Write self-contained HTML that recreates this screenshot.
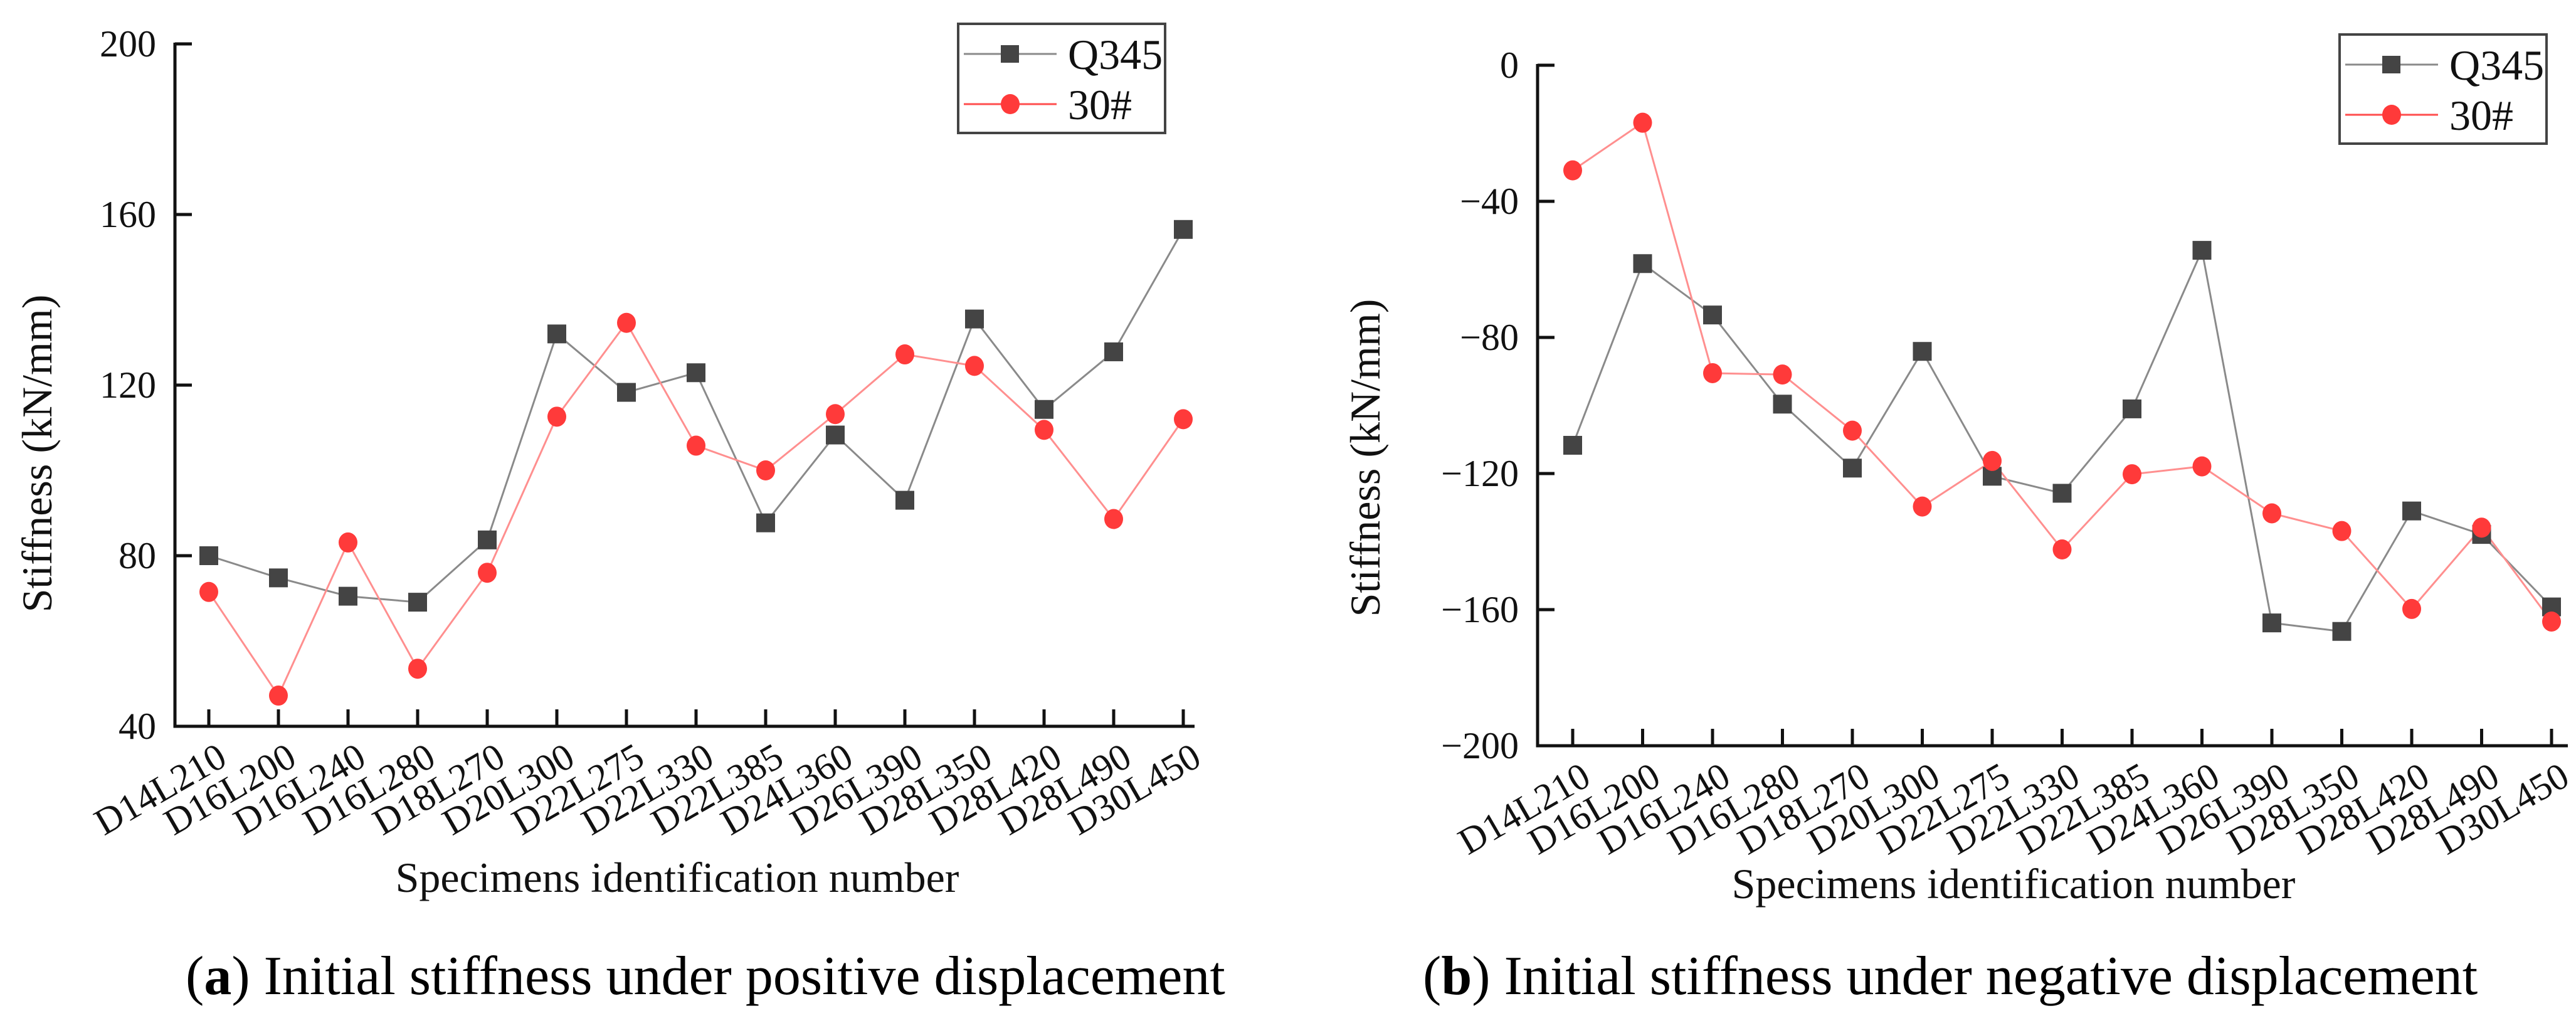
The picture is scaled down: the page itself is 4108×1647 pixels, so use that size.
<!DOCTYPE html>
<html><head><meta charset="utf-8"><style>
html,body{margin:0;padding:0;background:#fff;}
svg, svg text{font-family:"Liberation Serif","Times New Roman",serif !important;}
</style></head><body>
<svg id="c" width="4108" height="1642" viewBox="0 0 4108 1642" xmlns="http://www.w3.org/2000/svg" font-family="Liberation Serif, serif"></svg>
<script>
const categories=["D14L210","D16L200","D16L240","D16L280","D18L270","D20L300","D22L275","D22L330","D22L385","D24L360","D26L390","D28L350","D28L420","D28L490","D30L450"];
const posQ345=[80,74.8,70.5,69.1,83.7,132,118.3,122.9,87.7,108.3,93,135.5,114.3,127.8,156.5];
const pos30=[71.5,47.2,83.1,53.5,76,112.6,134.6,105.8,100,113.2,127.2,124.5,109.5,88.6,112];
const negQ345=[-111.7,-58.3,-73.4,-99.6,-118.4,-84.1,-120.8,-125.8,-101,-54.4,-163.9,-166.4,-131,-137.9,-159.2];
const neg30=[-30.9,-16.9,-90.5,-90.9,-107.4,-129.7,-116.3,-142.3,-120.2,-117.9,-131.7,-136.9,-159.8,-135.9,-163.5];
const posTicks=[40,80,120,160,200];
const negTicks=[-200,-160,-120,-80,-40,0];
const seriesNames=["Q345","30#"];

const NS="http://www.w3.org/2000/svg";
const svg=document.getElementById('c');
function mk(tag,attrs,parent,text){const e=document.createElementNS(NS,tag);for(const k in attrs)e.setAttribute(k,attrs[k]);if(tag==='text')e.setAttribute('font-family','Liberation Serif, serif');if(text!==undefined)e.textContent=text;(parent||svg).appendChild(e);return e;}

function chart(cfg){
  const g=mk('g',{});
  
  
  const ymin=cfg.ticks[0],ymax=cfg.ticks[cfg.ticks.length-1];
  const Y=v=>cfg.y1-(v-ymin)/(ymax-ymin)*(cfg.y1-cfg.y0);
  const X=i=>cfg.xf+i*(cfg.xl-cfg.xf)/(categories.length-1);
  const ax=mk('path',{d:`M${cfg.ax} ${cfg.y0-2}V${cfg.y1}H${cfg.xend}`,stroke:'#111','stroke-width':5,fill:'none'},g);
  
  
  cfg.ticks.forEach(t=>{
    const tk=mk('line',{x1:cfg.ax,x2:cfg.ax+27,y1:Y(t),y2:Y(t),stroke:'#111','stroke-width':5},g);
    
    
    const lb=mk('text',{x:cfg.ax-30,y:Y(t)+20,'font-size':60,'text-anchor':'end',fill:'#111'},g,t<0?'\u2212'+(-t):String(t));
    
    
  });
  categories.forEach((c,i)=>{
    const tk=mk('line',{x1:X(i),x2:X(i),y1:cfg.y1,y2:cfg.y1-27,stroke:'#111','stroke-width':5},g);
    
    
    const lb=mk('text',{'font-size':60,'text-anchor':'end',fill:'#111',transform:`translate(${X(i)+32},${cfg.y1+60}) rotate(-30)`},g,c);
    
    
  });
  const yt=mk('text',{'font-size':68,'text-anchor':'middle',fill:'#111',transform:`translate(${cfg.ytx},${cfg.yty}) rotate(-90)`},g,'Stiffness (kN/mm)');
  
  
  const xt=mk('text',{x:cfg.xtx,y:cfg.xty,'font-size':68,'text-anchor':'middle',fill:'#111'},g,'Specimens identification number');
  
  
  const s1=cfg.s1.map((v,i)=>`${X(i)},${Y(v)}`).join(' ');
  const s2=cfg.s2.map((v,i)=>`${X(i)},${Y(v)}`).join(' ');
  const l1=mk('polyline',{points:s1,fill:'none',stroke:'#8a8a8a','stroke-width':3},g);
  
  
  const l2=mk('polyline',{points:s2,fill:'none',stroke:'#ff8f8f','stroke-width':3},g);
  
  
  cfg.s1.forEach((v,i)=>{
    const m=mk('rect',{x:X(i)-15,y:Y(v)-15,width:30,height:30,fill:'#444'},g);
    
    
  });
  cfg.s2.forEach((v,i)=>{
    const m=mk('ellipse',{cx:X(i),cy:Y(v),rx:15,ry:16,fill:'#ff3a3a'},g);
    
    
  });
  const lg=mk('g',{},g);
  
  
  mk('rect',{x:cfg.lx,y:cfg.ly,width:330,height:174,fill:'#fff',stroke:'#444','stroke-width':4},lg);
  const rows=[cfg.ly+48,cfg.ly+128];
  const e1=mk('g',{},lg);
  
  
  mk('line',{x1:cfg.lx+9,x2:cfg.lx+157,y1:rows[0],y2:rows[0],stroke:'#8a8a8a','stroke-width':3},e1);
  mk('rect',{x:cfg.lx+68,y:rows[0]-14,width:29,height:28,fill:'#444'},e1);
  mk('text',{x:cfg.lx+175,y:rows[0]+24,'font-size':68,fill:'#111'},e1,seriesNames[0]);
  const e2=mk('g',{},lg);
  
  
  mk('line',{x1:cfg.lx+9,x2:cfg.lx+157,y1:rows[1],y2:rows[1],stroke:'#ff4d4d','stroke-width':3},e2);
  mk('ellipse',{cx:cfg.lx+83,cy:rows[1],rx:15,ry:16,fill:'#ff3a3a'},e2);
  mk('text',{x:cfg.lx+175,y:rows[1]+24,'font-size':68,fill:'#111'},e2,seriesNames[1]);
  const cap=mk('text',{x:cfg.capx,y:1585,'font-size':88,fill:'#000'},g);
  
  
  mk('tspan',{},cap,'(');
  mk('tspan',{'font-weight':'bold'},cap,cfg.letter);
  mk('tspan',{},cap,') '+cfg.caption);
}

chart({name:'chart-positive',ticks:posTicks,s1:posQ345,s2:pos30,ax:279,y0:70,y1:1158,xf:333,xl:1887,xend:1905,
  ytx:82,yty:723,xtx:1080,xty:1422,lx:1528,ly:38,capx:296,letter:'a',caption:'Initial stiffness under positive displacement'});
chart({name:'chart-negative',ticks:negTicks,s1:negQ345,s2:neg30,ax:2452,y0:104,y1:1189,xf:2508,xl:4069,xend:4095,
  ytx:2200,yty:730,xtx:3211,xty:1432,lx:3731,ly:55,capx:2269,letter:'b',caption:'Initial stiffness under negative displacement'});
</script>
</body></html>
